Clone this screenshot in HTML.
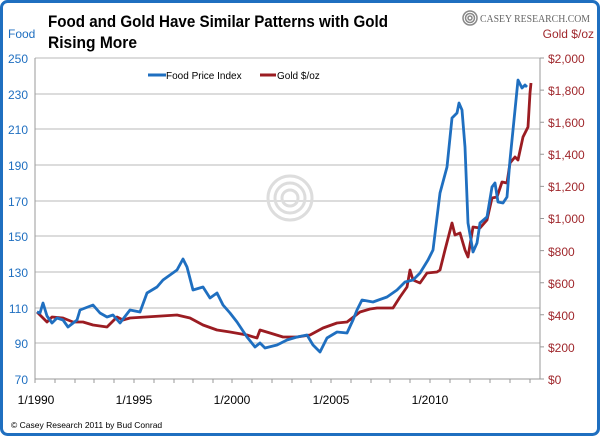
<!DOCTYPE html>
<html><head><meta charset="utf-8"><style>
body{margin:0;background:#fff}
svg{display:block;font-family:"Liberation Sans",sans-serif}
</style></head><body>
<svg width="600" height="436" viewBox="0 0 600 436">
<rect x="1.5" y="1.5" width="597" height="433" rx="6" fill="#fff" stroke="#1f6fc0" stroke-width="3"/>
<text x="48" y="27" font-size="17" font-weight="bold" fill="#000" textLength="340" lengthAdjust="spacingAndGlyphs">Food and Gold Have Similar Patterns with Gold</text>
<text x="48" y="48" font-size="17" font-weight="bold" fill="#000" textLength="89" lengthAdjust="spacingAndGlyphs">Rising More</text>
<text x="8" y="38" font-size="12" fill="#1f6fc0">Food</text>
<text x="594" y="38" font-size="12" fill="#a0282d" text-anchor="end">Gold $/oz</text>
<g fill="none" stroke="#888" stroke-width="1.5">
<circle cx="470" cy="18" r="7"/><circle cx="470" cy="18" r="4.5"/><circle cx="470" cy="18" r="2"/></g>
<text x="480" y="22" font-size="11" fill="#666" font-family="Liberation Serif,serif" textLength="110" lengthAdjust="spacingAndGlyphs">CASEY RESEARCH.COM</text>
<g stroke="#c8c8c8" stroke-width="1.2">
<line x1="35" x2="540" y1="58" y2="58"/><line x1="35" x2="540" y1="94" y2="94"/><line x1="35" x2="540" y1="129" y2="129"/><line x1="35" x2="540" y1="165" y2="165"/><line x1="35" x2="540" y1="201" y2="201"/><line x1="35" x2="540" y1="236" y2="236"/><line x1="35" x2="540" y1="272" y2="272"/><line x1="35" x2="540" y1="308" y2="308"/><line x1="35" x2="540" y1="343" y2="343"/>
</g>
<g stroke="#999" stroke-width="1">
<line x1="35" x2="35" y1="58" y2="379"/><line x1="540" x2="540" y1="58" y2="379"/><line x1="35" x2="540" y1="379" y2="379"/>
<path d="M35 379v4M55 379v4M75 379v4M94 379v4M114 379v4M134 379v4M154 379v4M174 379v4M193 379v4M213 379v4M232 379v4M252 379v4M272 379v4M292 379v4M311 379v4M331 379v4M351 379v4M371 379v4M390 379v4M410 379v4M430 379v4M450 379v4M470 379v4M490 379v4M510 379v4M530 379v4M540 58h4M540 90.1h4M540 122.2h4M540 154.3h4M540 186.4h4M540 218.5h4M540 250.6h4M540 282.7h4M540 314.8h4M540 346.9h4M540 379h4"/>
</g>
<g fill="none" stroke="#ddd" stroke-width="3">
<circle cx="290" cy="198" r="22"/><circle cx="290" cy="198" r="15"/><circle cx="290" cy="198" r="8"/></g>
<g font-size="12" fill="#1f6fc0" text-anchor="end">
<text x="28" y="63">250</text><text x="28" y="99">230</text><text x="28" y="134">210</text><text x="28" y="170">190</text><text x="28" y="206">170</text><text x="28" y="241">150</text><text x="28" y="277">130</text><text x="28" y="313">110</text><text x="28" y="348">90</text><text x="28" y="384">70</text>
</g>
<g font-size="12" fill="#a0282d">
<text x="548" y="63">$2,000</text><text x="548" y="95">$1,800</text><text x="548" y="127">$1,600</text><text x="548" y="159">$1,400</text><text x="548" y="191">$1,200</text><text x="548" y="223">$1,000</text><text x="548" y="256">$800</text><text x="548" y="288">$600</text><text x="548" y="320">$400</text><text x="548" y="352">$200</text><text x="548" y="384">$0</text>
</g>
<g font-size="12" fill="#000" text-anchor="middle">
<text x="36" y="404">1/1990</text><text x="134" y="404">1/1995</text><text x="232" y="404">1/2000</text><text x="331" y="404">1/2005</text><text x="430" y="404">1/2010</text>
</g>
<text x="11" y="428" font-size="8.5" fill="#000">© Casey Research 2011 by Bud Conrad</text>
<line x1="148" x2="166" y1="75" y2="75" stroke="#1f6fc0" stroke-width="3"/>
<text x="166" y="79" font-size="10" fill="#000">Food Price Index</text>
<line x1="260" x2="276" y1="75" y2="75" stroke="#9b1c22" stroke-width="3"/>
<text x="277" y="79" font-size="10" fill="#000">Gold $/oz</text>
<polyline fill="none" stroke="#9b1c22" stroke-width="2.8" stroke-linejoin="round" points="37,312 47,322 52,317 63,318 73,322 83,322 93,325 107,327 117,317 123,320 130,318 177,315 190,318 203,325 217,330 230,332 247,335 257,338 260,330 270,333 283,337 297,337 310,335 323,328 337,323 347,322 360,312 370,309 377,308 393,308 400,297 407,287 410,270 413,280 420,283 427,273 437,272 440,270 445,250 452,223 455,235 460,233 465,250 468,257 473,227 480,228 487,220 492,198 497,197 502,182 507,183 510,163 515,157 518,160 523,137 528,127 530,93 531,83"/>
<polyline fill="none" stroke="#1f6fc0" stroke-width="2.8" stroke-linejoin="round" points="37,312 40,313 43,303 47,316 52,323 57,318 63,320 68,327 77,320 80,310 93,305 100,313 107,317 113,315 120,323 130,310 140,312 147,293 157,287 163,280 170,275 177,270 183,259 187,267 193,290 203,287 210,298 217,293 223,305 230,313 237,322 247,337 255,347 260,343 265,348 277,345 287,340 297,337 307,335 313,345 320,352 327,338 337,332 347,333 353,320 357,310 362,300 373,302 387,297 397,290 405,282 413,280 420,273 428,260 433,250 440,193 447,167 452,118 457,113 459,103 462,110 465,147 468,223 471,240 473,252 477,243 480,223 487,217 492,187 495,183 498,202 503,203 507,197 510,160 515,110 518,80 522,88 525,85 527,87"/>
</svg>
</body></html>
